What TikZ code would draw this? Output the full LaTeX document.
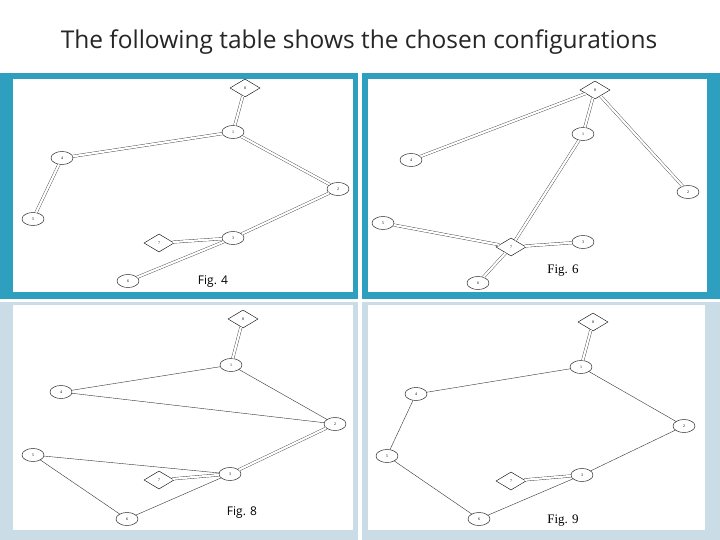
\documentclass[tikz,border=0pt]{standalone}
\usepackage{fontspec}
\setmainfont{Liberation Serif}
\setsansfont{Open Sans}
\usetikzlibrary{shapes.geometric}
\definecolor{teal1}{HTML}{2E9FBF}
\definecolor{pale1}{HTML}{CADDE6}
\tikzset{
  stn/.style={draw, ellipse, minimum width=22pt, minimum height=13pt, inner sep=0pt, font=\fontsize{4}{4}\selectfont, line width=0.4pt},
  src/.style={draw, diamond, aspect=1.7, minimum width=30pt, minimum height=18pt, inner sep=0pt, font=\fontsize{4}{4}\selectfont, line width=0.4pt},
  pipe/.style={draw=black!80, double=white, double distance=2.2pt, line width=0.35pt},
  wire/.style={draw=black!80, line width=0.4pt},
  figlab/.style={font=\fontsize{13}{13}\selectfont}
}
\begin{document}
\begin{tikzpicture}[x=1pt, y=-1pt]
    \useasboundingbox (0,0) rectangle (720,540);
    \fill[white] (0,0) rectangle (720,540);
    \node[font=\sffamily\fontsize{24.5}{24.5}\selectfont, text=black!85] (title) at (359,42) {The following table shows the chosen configurations};
    % cells
    \fill[teal1] (0,73) rectangle (358,299);
    \fill[teal1] (362,73) rectangle (720,299);
    \fill[pale1] (0,302) rectangle (358,540);
    \fill[pale1] (362,302) rectangle (720,540);
    \fill[white] (13,79) rectangle (353,292);
    \fill[white] (368,79) rectangle (707,292);
    \fill[white] (13,305) rectangle (353,530);
    \fill[white] (368,305) rectangle (705,530);
    % Fig. 4
    \begin{scope}
      \node[src] (a8) at (245,88) {8};
      \node[stn] (a1) at (233,132) {1};
      \node[stn] (a4) at (62,158) {4};
      \node[stn] (a5) at (33,219) {5};
      \node[stn] (a2) at (338,189) {2};
      \node[stn] (a3) at (233,238) {3};
      \node[src] (a7) at (159,243) {7};
      \node[stn] (a6) at (128,281) {6};
      \node[font=\sffamily\fontsize{12}{12}\selectfont] (af) at (213,282) {Fig. 4};
      \draw[pipe] (a8) -- (a1);
      \draw[pipe] (a1) -- (a4);
      \draw[pipe] (a4) -- (a5);
      \draw[pipe] (a1) -- (a2);
      \draw[pipe] (a2) -- (a3);
      \draw[pipe] (a3) -- (a7);
      \draw[pipe] (a3) -- (a6);
    \end{scope}
    % Fig. 6
    \begin{scope}
      \node[src] (b8) at (595,90) {8};
      \node[stn] (b1) at (583,134) {1};
      \node[stn] (b4) at (411,160) {4};
      \node[stn] (b2) at (688,192) {2};
      \node[stn] (b5) at (383,223) {5};
      \node[src] (b7) at (511,247) {7};
      \node[stn] (b3) at (583,242) {3};
      \node[stn] (b6) at (478,283) {6};
      \node[figlab] (bf) at (563,271) {Fig. 6};
      \draw[pipe] (b8) -- (b4);
      \draw[pipe] (b8) -- (b1);
      \draw[pipe] (b8) -- (b2);
      \draw[pipe] (b1) -- (b7);
      \draw[pipe] (b5) -- (b7);
      \draw[pipe] (b7) -- (b3);
      \draw[pipe] (b7) -- (b6);
    \end{scope}
    % Fig. 8
    \begin{scope}
      \node[src] (c8) at (243,319) {8};
      \node[stn] (c1) at (231,365) {1};
      \node[stn] (c4) at (61,392) {4};
      \node[stn] (c2) at (335,424) {2};
      \node[stn] (c5) at (33,455) {5};
      \node[stn] (c3) at (230,474) {3};
      \node[src] (c7) at (159,480) {7};
      \node[stn] (c6) at (127,519) {6};
      \node[font=\sffamily\fontsize{12}{12}\selectfont] (cf) at (242,513) {Fig. 8};
      \draw[pipe] (c8) -- (c1);
      \draw[wire] (c1) -- (c4);
      \draw[wire] (c4) -- (c2);
      \draw[wire] (c1) -- (c2);
      \draw[wire] (c5) -- (c3);
      \draw[wire] (c5) -- (c6);
      \draw[pipe] (c2) -- (c3);
      \draw[pipe] (c7) -- (c3);
      \draw[wire] (c3) -- (c6);
    \end{scope}
    % Fig. 9
    \begin{scope}
      \node[src] (d8) at (593,322) {8};
      \node[stn] (d1) at (581,367) {1};
      \node[stn] (d4) at (416,394) {4};
      \node[stn] (d2) at (684,426) {2};
      \node[stn] (d5) at (387,456) {5};
      \node[stn] (d3) at (582,475) {3};
      \node[src] (d7) at (511,481) {7};
      \node[stn] (d6) at (479,519) {6};
      \node[figlab] (df) at (563,521) {Fig. 9};
      \draw[pipe] (d8) -- (d1);
      \draw[wire] (d1) -- (d4);
      \draw[wire] (d4) -- (d5);
      \draw[wire] (d5) -- (d6);
      \draw[wire] (d6) -- (d3);
      \draw[wire] (d3) -- (d2);
      \draw[wire] (d2) -- (d1);
      \draw[pipe] (d7) -- (d3);
    \end{scope}
  \end{tikzpicture}
\end{document}
